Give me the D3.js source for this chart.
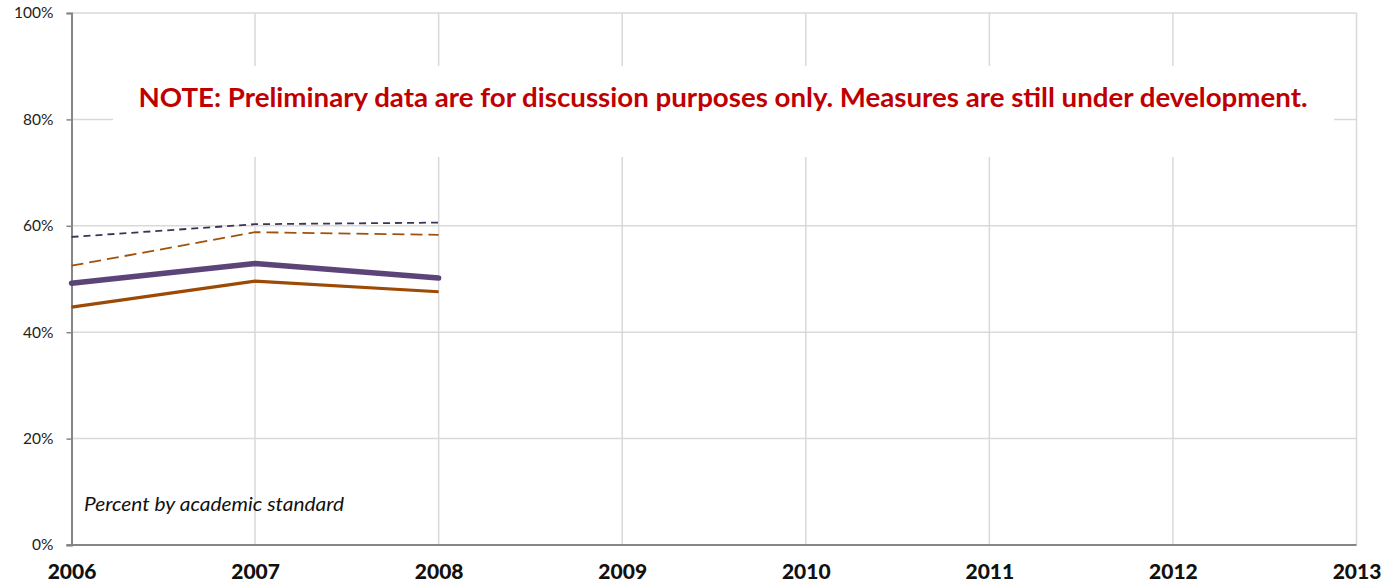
<!DOCTYPE html>
<html><head><meta charset="utf-8">
<script src="https://cdn.jsdelivr.net/npm/d3@7"></script>
<style>body{margin:0;background:#fff;}svg{display:block;}</style>
</head><body>
<svg id="c" width="1387" height="584"></svg>
<script>
const years = [2006, 2007, 2008, 2009, 2010, 2011, 2012, 2013];
const dataYears = [2006, 2007, 2008];
const purpleDashed = [57.9, 60.3, 60.6];
const orangeDashed = [52.5, 58.8, 58.3];
const purpleSolid = [49.2, 52.9, 50.2];
const orangeSolid = [44.7, 49.6, 47.6];
const yTicks = [0, 20, 40, 60, 80, 100];
const noteText = "NOTE: Preliminary data are for discussion purposes only. Measures are still under development.";
const subText = "Percent by academic standard";

const svg = d3.select("#c");
const x = d3.scaleLinear().domain([2006, 2013]).range([71.5, 1356.5]);
const y = d3.scaleLinear().domain([0, 100]).range([545, 13]);

// grid
svg.append("g").selectAll("line.v").data(years.slice(1)).join("line")
  .attr("x1", d => x(d)).attr("x2", d => x(d)).attr("y1", y(100)).attr("y2", y(0))
  .attr("stroke", "#d9d9d9").attr("stroke-width", 1.5);
svg.append("g").selectAll("line.h").data(yTicks.slice(1)).join("line")
  .attr("x1", x(2006)).attr("x2", x(2013)).attr("y1", d => y(d)).attr("y2", d => y(d))
  .attr("stroke", "#d9d9d9").attr("stroke-width", 1.5);

// note box
svg.append("rect").attr("x", 113).attr("y", 66).attr("width", 1221).attr("height", 91).attr("fill", "#fff");

// y axis
const yAxis = d3.axisLeft(y).tickValues(yTicks).tickFormat(d => d + "%").tickSize(5).tickPadding(13);
const gy = svg.append("g").attr("transform", `translate(${x(2006)},0)`).call(yAxis);
gy.select(".domain").attr("stroke", "#868686").attr("stroke-width", 2);
gy.selectAll(".tick line").attr("stroke", "#868686").attr("stroke-width", 1.5);
gy.selectAll(".tick text").attr("font-family", "Lato, 'Open Sans', sans-serif").attr("font-size", 15.5).attr("fill", "#222");

// x axis
const xAxis = d3.axisBottom(x).tickValues(years).tickFormat(d3.format("d")).tickSize(0).tickPadding(19);
const gx = svg.append("g").attr("transform", `translate(0,${y(0)})`).call(xAxis);
gx.select(".domain").attr("stroke", "#868686").attr("stroke-width", 2).attr("d", `M${x(2006)-5},0H${x(2013)}`);
gx.selectAll(".tick text").attr("font-family", "Lato, 'Open Sans', sans-serif").attr("font-weight", "900").attr("font-size", 21).attr("fill", "#111");

// lines
const line = vals => d3.line().x((d, i) => x(dataYears[i])).y(d => y(d))(vals);
svg.append("path").attr("d", line(orangeSolid)).attr("fill", "none").attr("stroke", "#9C4A06").attr("stroke-width", 3.2).attr("stroke-linejoin", "round");
svg.append("path").attr("d", line(purpleSolid)).attr("fill", "none").attr("stroke", "#5B4578").attr("stroke-width", 5.5).attr("stroke-linecap", "round").attr("stroke-linejoin", "round");
svg.append("path").attr("d", line(orangeDashed)).attr("fill", "none").attr("stroke", "#A0520C").attr("stroke-width", 1.8).attr("stroke-dasharray", "12,6");
svg.append("path").attr("d", line(purpleDashed)).attr("fill", "none").attr("stroke", "#3E3354").attr("stroke-width", 1.8).attr("stroke-dasharray", "7,5");

// texts
svg.append("text").attr("x", 723).attr("y", 107).attr("text-anchor", "middle")
  .attr("font-family", "Lato, 'Open Sans', sans-serif").attr("font-weight", "bold").attr("font-size", 26)
  .attr("fill", "#C00000").attr("textLength", 1169).attr("lengthAdjust", "spacingAndGlyphs").text(noteText);
svg.append("text").attr("x", 84).attr("y", 511)
  .attr("font-family", "Lato, 'Open Sans', sans-serif").attr("font-style", "italic").attr("font-size", 19)
  .attr("fill", "#111").attr("textLength", 260).attr("lengthAdjust", "spacingAndGlyphs").text(subText);
</script>
</body></html>
